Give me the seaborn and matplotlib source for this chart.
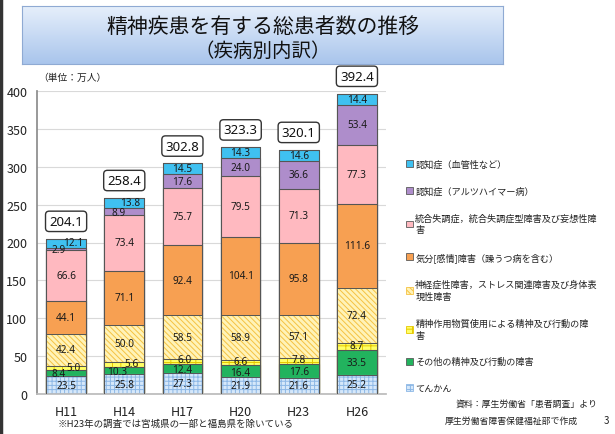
import numpy as np
import pandas as pd
import seaborn as sns
import matplotlib.pyplot as plt
from matplotlib.patches import Patch
from matplotlib.lines import Line2D
from matplotlib.colors import LinearSegmentedColormap

years = ["H11", "H14", "H17", "H20", "H23", "H26"]
totals = [204.1, 258.4, 302.8, 323.3, 320.1, 392.4]

# bottom -> top
epilepsy = [23.5, 25.8, 27.3, 21.9, 21.6, 25.2]
other = [8.4, 10.3, 12.4, 16.4, 17.6, 33.5]
substance = [5.0, 5.6, 6.0, 6.6, 7.8, 8.7]
neurotic = [42.4, 50.0, 58.5, 58.9, 57.1, 72.4]
mood = [44.1, 71.1, 92.4, 104.1, 95.8, 111.6]
schizo = [66.6, 73.4, 75.7, 79.5, 71.3, 77.3]
alzheimer = [2.9, 8.9, 17.6, 24.0, 36.6, 53.4]
vascular = [12.1, 13.8, 14.5, 14.3, 14.6, 14.4]

labels = [
    "てんかん",
    "その他の精神及び行動の障害",
    "精神作用物質使用による精神及び行動の障\n害",
    "神経症性障害，ストレス関連障害及び身体表\n現性障害",
    "気分[感情]障害（躁うつ病を含む）",
    "統合失調症，統合失調症型障害及び妄想性障\n害",
    "認知症（アルツハイマー病）",
    "認知症（血管性など）",
]
series = [epilepsy, other, substance, neurotic, mood, schizo, alzheimer, vascular]

# face, edge/hatch colour, hatch
styles = [
    ("#D6E8FA", "#8DB8E6", "++++"),
    ("#22B35E", "#4D4D4D", None),
    ("#FFFF66", "#E6C800", "++"),
    ("#FFF3B8", "#F5C242", "\\\\\\\\\\\\"),
    ("#F7A052", "#5A5A5A", None),
    ("#FFB9C0", "#5A5A5A", None),
    ("#AE8DCB", "#5A5A5A", None),
    ("#3FC1F1", "#3A3A3A", None),
]

# nudges for crowded labels: (category index, year index) -> (dx, dy)
nudges = {(7, 0): (0.13, 0.5), (6, 0): (-0.13, -0.5), (2, 0): (0.12, 0.5), (1, 0): (-0.12, -0.5),
          (2, 1): (0.12, 1.2), (1, 1): (-0.12, -0.8), (6, 1): (-0.1, -0.5), (7, 1): (0.1, 0.5),
          (2, 2): (0.03, 2.2), (1, 2): (0, -1.5), (2, 3): (0, 1.8), (1, 3): (0, -1.2),
          (2, 4): (0, 1.8), (1, 4): (0, -1.2), (2, 5): (0, 0.8)}

sns.set_theme(style="white")
plt.rcParams["font.family"] = ["Noto Sans CJK JP", "DejaVu Sans"]
plt.rcParams["hatch.linewidth"] = 0.7

fig = plt.figure(figsize=(6.15, 4.35), dpi=100)
ax = fig.add_axes([37 / 615, 40 / 435, 349 / 615, 303 / 435])

data = pd.DataFrame(dict(zip(labels, series)), index=years)
cum = data.cumsum(axis=1)

# draw tallest cumulative first so lower layers cover it
for k in range(len(labels) - 1, -1, -1):
    face, edge, hatch = styles[k]
    sns.barplot(x=years, y=cum[labels[k]].values, color=face, saturation=1,
                width=0.68, edgecolor=edge if hatch else "#5A5A5A",
                linewidth=0.8, hatch=hatch, ax=ax, zorder=2)

for k in range(len(labels)):
    for i, y in enumerate(years):
        top = cum[labels[k]].iloc[i]
        ax.plot([i - 0.34, i + 0.34], [top, top], color="#555555", lw=0.7, zorder=3)
        v = data[labels[k]].iloc[i]
        dx, dy = nudges.get((k, i), (0, 0))
        ax.text(i + dx, top - v / 2 + dy, f"{v:.1f}", ha="center", va="center",
                fontsize=7.2, fontweight="bold", color="#1A1A1A",
                family=["Noto Sans", "DejaVu Sans"], zorder=5)

for i, y in enumerate(years):
    top = cum.iloc[i, -1]
    ax.plot([i - 0.34, i - 0.34], [0, top], color="#555555", lw=0.7, zorder=3)
    ax.plot([i + 0.34, i + 0.34], [0, top], color="#555555", lw=0.7, zorder=3)
    ax.annotate(f"{totals[i]:.1f}", xy=(i, top), xytext=(0, 12.5),
                textcoords="offset points", ha="center", va="center",
                fontsize=9.5, fontweight="bold", color="#111111",
                family=["Noto Sans", "DejaVu Sans"],
                bbox=dict(boxstyle="round,pad=0.28", fc="white", ec="#333333", lw=1.0),
                annotation_clip=False, zorder=6)

ax.set_ylim(0, 400)
ax.set_xlim(-0.5, 5.5)
ax.set_yticks(range(0, 401, 50))
ax.yaxis.grid(True, color="#D9D9D9", lw=0.8, zorder=0)
ax.set_axisbelow(True)
ax.tick_params(axis="y", labelsize=9, colors="#222222", length=0, pad=7)
ax.tick_params(axis="x", labelsize=9, colors="#222222", length=0, pad=8)
ax.set_xticks(np.arange(-0.5, 6, 1), minor=True)
ax.tick_params(axis="x", which="minor", length=4, color="#BBBBBB")
for s in ["top", "right"]:
    ax.spines[s].set_visible(False)
ax.spines["left"].set_color("#8C8C8C")
ax.spines["bottom"].set_color("#BBBBBB")

handles = [Patch(facecolor=styles[k][0], edgecolor=styles[k][1] if styles[k][2] else "#5A5A5A",
                 hatch=styles[k][2], lw=0.6) for k in range(len(labels) - 1, -1, -1)]
leg = fig.legend(handles, labels[::-1], loc="upper left", bbox_to_anchor=(402 / 615, 1 - 157 / 435),
                 frameon=False, fontsize=6.6, handlelength=0.75, handleheight=0.75,
                 handletextpad=0.3, labelspacing=1.9, borderaxespad=0, labelcolor="#222222")
for t in leg.get_texts():
    t.set_linespacing(1.45)

# title box with gradient
axt = fig.add_axes([22 / 615, 1 - 65 / 435, 481 / 615, 58 / 435])
cmap = LinearSegmentedColormap.from_list("tb", ["#A9C5EC", "#E6EFFB"])
axt.imshow(np.linspace(0, 1, 100).reshape(-1, 1)[::-1], cmap=cmap, aspect="auto",
           extent=[0, 1, 0, 1], origin="upper")
axt.set_xticks([])
axt.set_yticks([])
for s in axt.spines.values():
    s.set_color("#8FAAD3")
    s.set_linewidth(0.8)
axt.text(0.5, 0.66, "精神疾患を有する総患者数の推移", ha="center", va="center",
         fontsize=15, color="#111111", transform=axt.transAxes)
axt.text(0.5, 0.24, "（疾病別内訳）", ha="center", va="center",
         fontsize=14, color="#111111", transform=axt.transAxes)

fig.text(38 / 615, 1 - 78 / 435, "（単位：万人）", fontsize=7, va="center", color="#222222")
fig.text(58 / 615, 1 - 424 / 435, "※H23年の調査では宮城県の一部と福島県を除いている",
         fontsize=6.8, va="center", color="#222222")
fig.text(598 / 615, 1 - 404 / 435, "資料：厚生労働省「患者調査」より", fontsize=6.4,
         ha="right", va="center", color="#222222")
fig.text(578 / 615, 1 - 421 / 435, "厚生労働省障害保健福祉部で作成", fontsize=6.4,
         ha="right", va="center", color="#222222")
fig.text(606 / 615, 1 - 421 / 435, "3", fontsize=7, ha="center", va="center", color="#222222")
fig.add_artist(Line2D([0.002, 0.002], [0, 1], color="#333333", lw=2.5, transform=fig.transFigure))

fig.savefig("out.png", dpi=100)
